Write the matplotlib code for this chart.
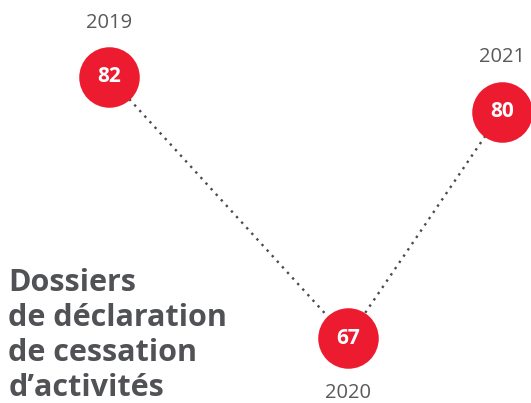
import matplotlib
matplotlib.use("Agg")
import matplotlib.pyplot as plt

years = ["2019", "2020", "2021"]
values = [82, 67, 80]
title_lines = ["Dossiers", "de déclaration", "de cessation", "d\u2019activités"]

# layout: horizontal position of each point (axes fraction) and label side
X_POS = [0.205, 0.655, 0.945]
LABEL_SIDE = [1, -1, 1]  # 1 = above, -1 = below
RED = "#ED1B2F"
GREY = "#595959"

plt.rcParams["font.family"] = ["Open Sans", "DejaVu Sans"]

fig = plt.figure(figsize=(5.31, 4.03), dpi=100)
ax = fig.add_axes([0, 0, 1, 1])
ax.set_xlim(0, 1)
ax.set_ylim(63.3, 86.4)
ax.axis("off")

ax.plot(X_POS, values, linestyle=(0, (1, 2.2)), color="#4a4a4a", lw=1.7, zorder=1)
ax.scatter(X_POS, values, s=1900, color=RED, zorder=2, linewidths=0)

for x, v, yr, side in zip(X_POS, values, years, LABEL_SIDE):
    ax.text(x, v, str(v), ha="center", va="center", color="white",
            fontsize=15, fontweight="bold", zorder=3)
    ax.annotate(yr, (x, v), xytext=(0, side * 39), textcoords="offset points",
                ha="center", va="center", color=GREY, fontsize=14.5)

fig.text(0.016, 0.0, "\n".join(title_lines), ha="left", va="bottom",
         fontsize=22, fontweight="bold", color="#505256", linespacing=1.22)

fig.savefig("out.png", dpi=100)
